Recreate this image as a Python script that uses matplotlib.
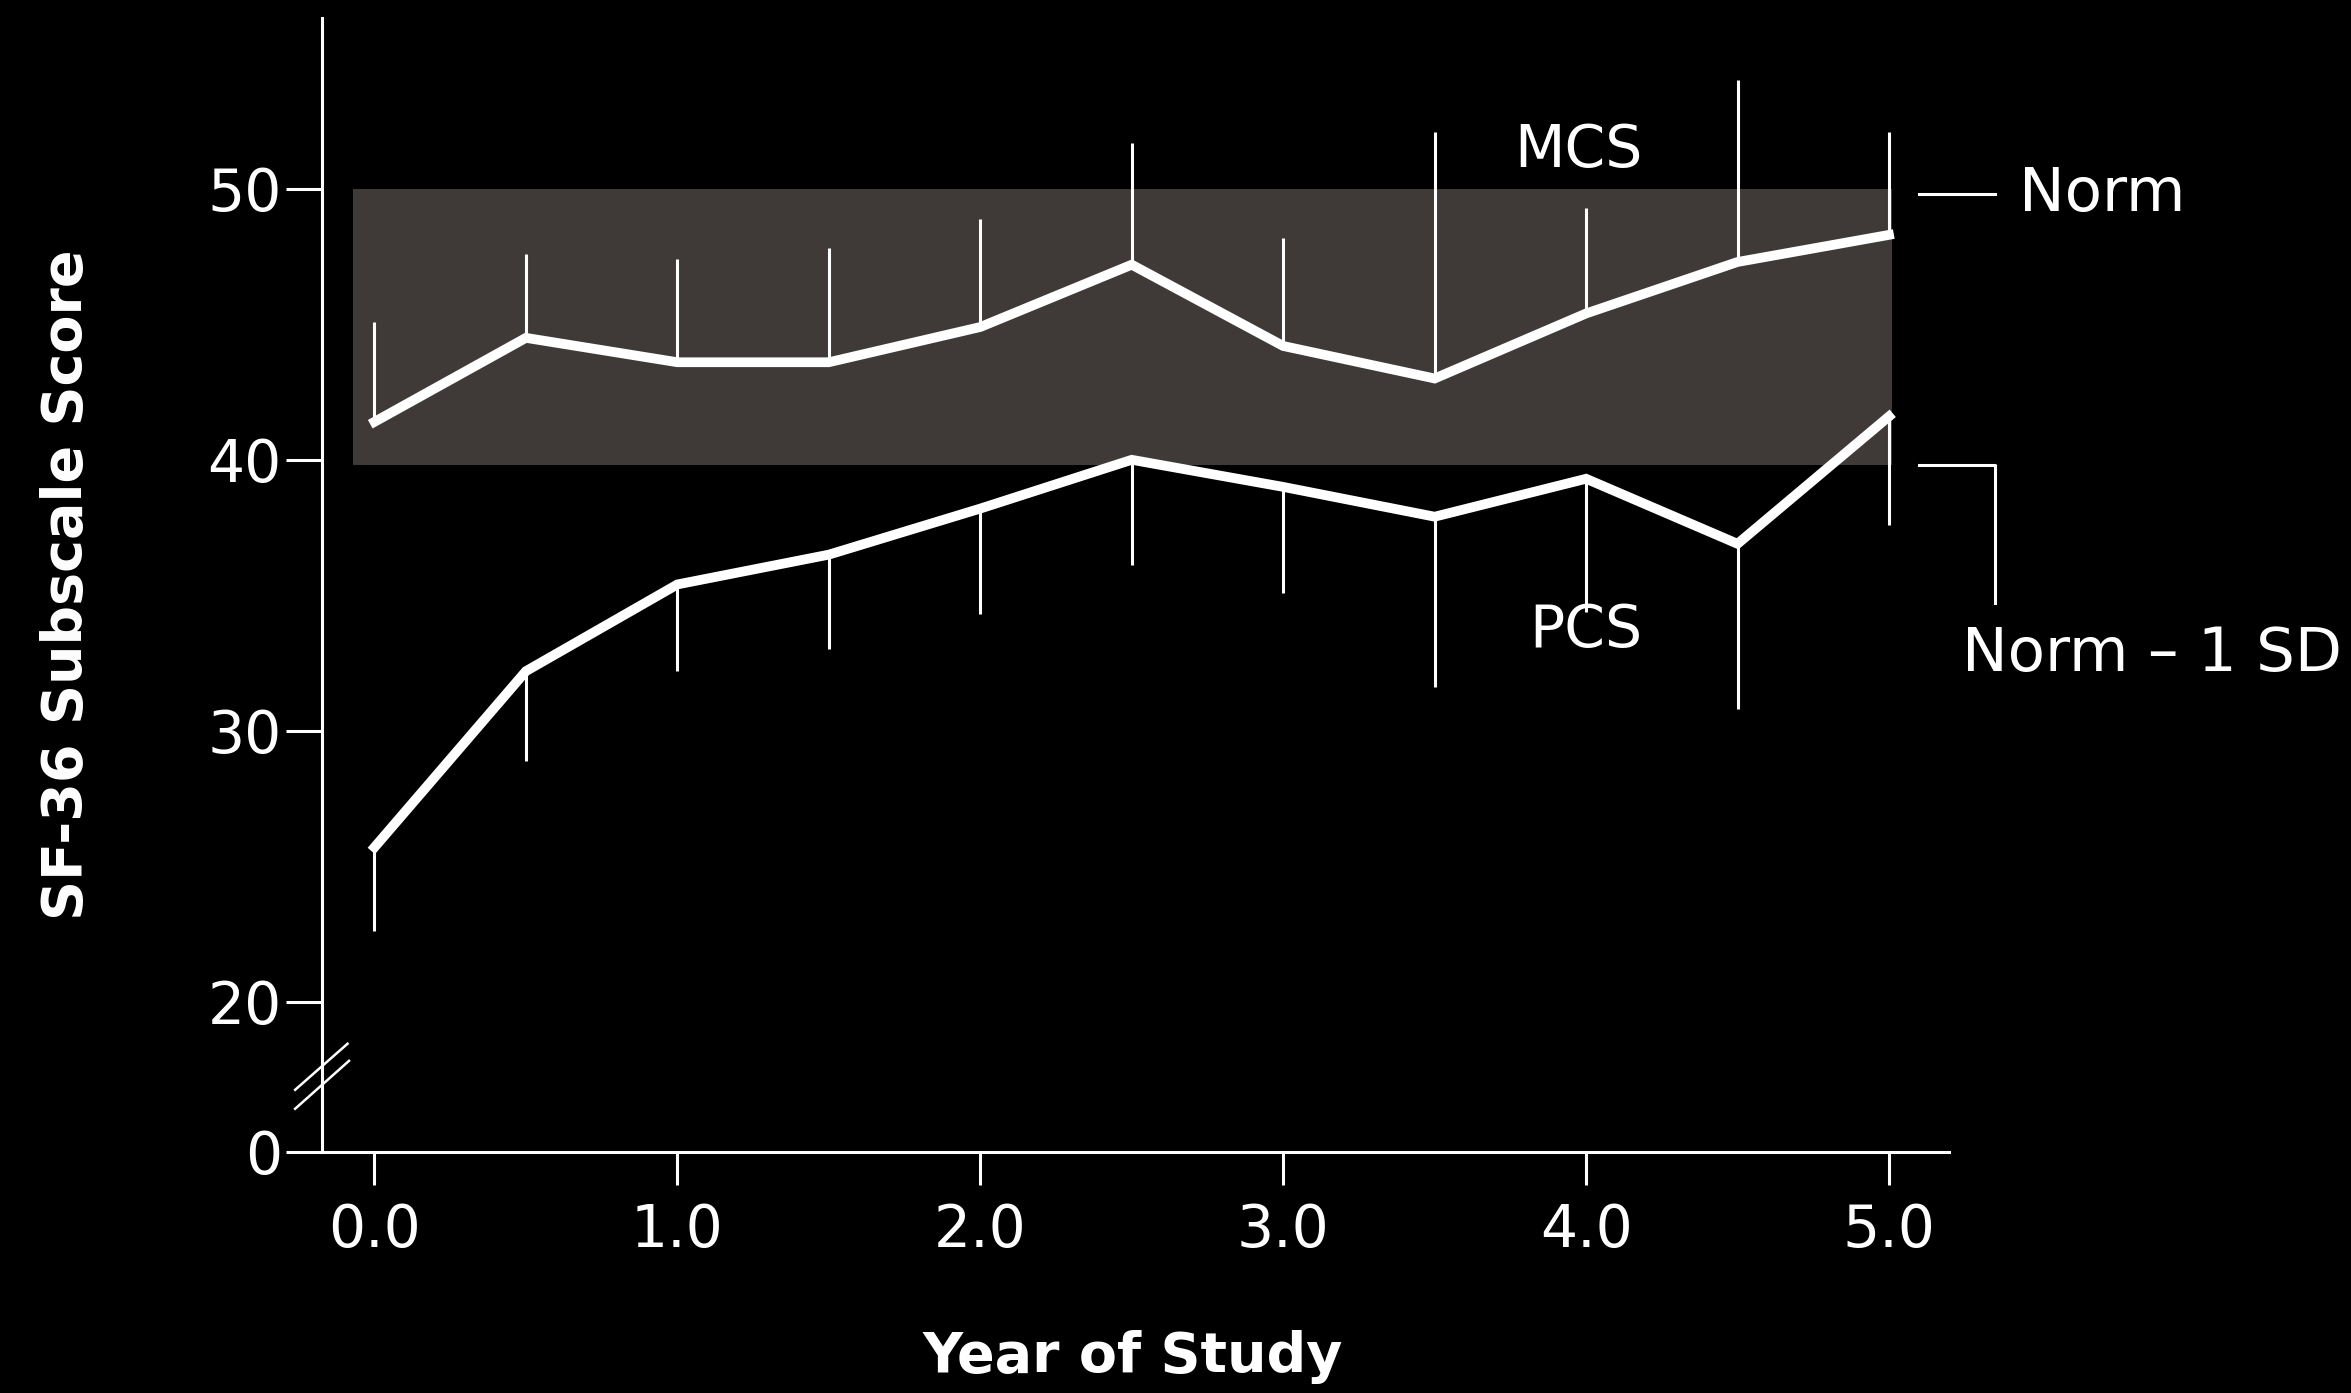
import matplotlib.pyplot as plt
import numpy as np

years = [0.0, 0.5, 1.0, 1.5, 2.0, 2.5, 3.0, 3.5, 4.0, 4.5, 5.0]
mcs = [41.4, 44.5, 43.6, 43.6, 44.9, 47.2, 44.2, 43.0, 45.4, 47.3, 48.3]
mcs_err_up = [3.7, 3.1, 3.8, 4.2, 4.0, 4.5, 4.0, 9.1, 3.9, 6.7, 3.8]
pcs = [25.7, 32.2, 35.4, 36.5, 38.2, 40.0, 39.0, 37.9, 39.3, 36.9, 41.6]
pcs_err_down = [3.1, 3.3, 3.2, 3.5, 3.9, 3.9, 3.9, 6.3, 4.9, 6.1, 4.0]

norm = 50.0
norm_minus_sd = 39.8
zero_pos = 14.47  # where the "0" sits after the axis break

ytick_vals = [zero_pos, 20, 30, 40, 50]
ytick_labels = ['0', '20', '30', '40', '50']
xtick_vals = [0, 1, 2, 3, 4, 5]
xtick_labels = ['0.0', '1.0', '2.0', '3.0', '4.0', '5.0']

plt.rcParams['font.family'] = ['DejaVu Sans']

fig = plt.figure(figsize=(23.51, 13.93), dpi=100, facecolor='black')
ax = fig.add_axes([0.137, 0.1733, 0.829 - 0.137, 0.987 - 0.1733])
ax.set_facecolor('black')

# norm band
ax.fill_between([-0.07, 5.01], norm_minus_sd, norm, color='#3f3a38', lw=0, zorder=1)

# one-sided error bars
ax.vlines(years, mcs, np.array(mcs) + np.array(mcs_err_up), color='white', lw=2.2, zorder=2)
ax.vlines(years, np.array(pcs) - np.array(pcs_err_down), pcs, color='white', lw=2.2, zorder=2)

ax.plot(years, mcs, color='white', lw=7, solid_joinstyle='miter', zorder=3)
ax.plot(years, pcs, color='white', lw=7, solid_joinstyle='miter', zorder=3)

ax.set_xlim(-0.173, 5.198)
ax.set_ylim(zero_pos, 56.3)

for s in ['top', 'right']:
    ax.spines[s].set_visible(False)
for s in ['left', 'bottom']:
    ax.spines[s].set_color('white')
    ax.spines[s].set_linewidth(2.2)

ax.set_xticks(xtick_vals)
ax.set_xticklabels(xtick_labels)
ax.set_yticks(ytick_vals)
ax.set_yticklabels(ytick_labels)
ax.tick_params(axis='x', colors='white', length=24, width=2.2, labelsize=42, pad=12)
ax.tick_params(axis='y', colors='white', length=26, width=2.2, labelsize=42, pad=3)

ax.set_xlabel('Year of Study', color='white', fontsize=40, fontweight='bold', va='center')
ax.set_ylabel('SF-36 Subscale Score', color='white', fontsize=40, fontweight='bold', va='center')
ax.xaxis.set_label_coords(0.498, -0.181)
ax.yaxis.set_label_coords(-0.157, 0.5)

# axis break marks
ax.plot([-0.262, -0.089], [16.75, 18.45], color='white', lw=1.8, clip_on=False, zorder=4)
ax.plot([-0.262, -0.084], [16.05, 17.82], color='white', lw=1.8, clip_on=False, zorder=4)

# labels
ax.text(3.975, 51.4, 'MCS', color='white', fontsize=42, ha='center', va='center')
ax.text(4.0, 33.7, 'PCS', color='white', fontsize=42, ha='center', va='center')

ax.plot([5.1, 5.35], [norm - 0.2, norm - 0.2], color='white', lw=2.2, clip_on=False)
ax.text(5.43, norm - 0.2, 'Norm', color='white', fontsize=44, ha='left', va='center')
ax.plot([5.1, 5.35, 5.35], [norm_minus_sd, norm_minus_sd, 34.7], color='white', lw=2.2, clip_on=False)
ax.text(5.24, 32.8, 'Norm \u2013 1 SD', color='white', fontsize=44, ha='left', va='center')

fig.savefig('out.png', dpi=100, facecolor='black')
